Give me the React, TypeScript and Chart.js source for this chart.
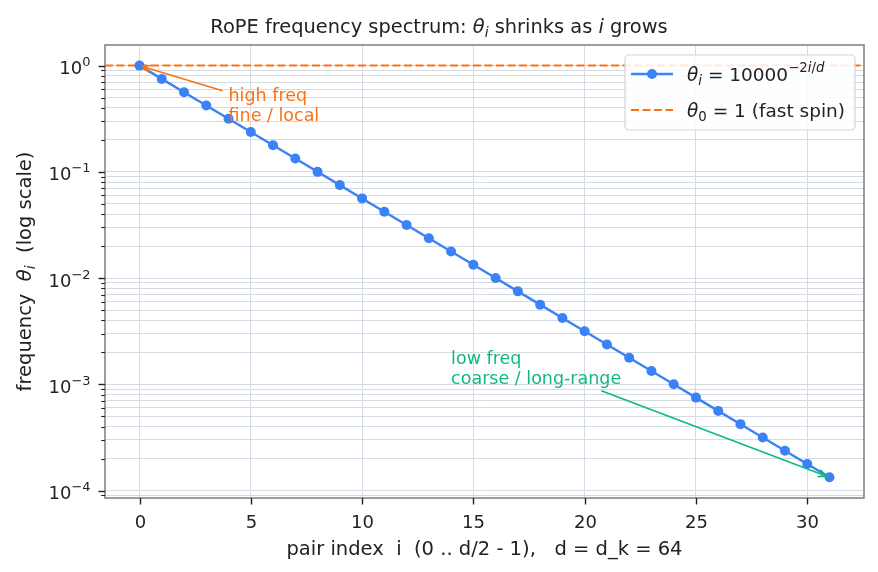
import { useEffect, useRef } from "react";
import { Chart, registerables } from "chart.js";

Chart.register(...registerables);

// RoPE rotation frequencies theta_i = 10000^(-2i/d) for d = 64, pair index 0..31
const PAIR_INDEX = [
  0, 1, 2, 3, 4, 5, 6, 7, 8, 9, 10, 11, 12, 13, 14, 15,
  16, 17, 18, 19, 20, 21, 22, 23, 24, 25, 26, 27, 28, 29, 30, 31,
];
const THETA = [
  1, 0.7499, 0.5623, 0.4217, 0.3162, 0.2371, 0.1778, 0.1334,
  0.1, 0.07499, 0.05623, 0.04217, 0.03162, 0.02371, 0.01778, 0.01334,
  0.01, 0.007499, 0.005623, 0.004217, 0.003162, 0.002371, 0.001778, 0.001334,
  0.001, 0.0007499, 0.0005623, 0.0004217, 0.0003162, 0.0002371, 0.0001778, 0.0001334,
];
const REF_LEVEL = 1;

const X_TICKS = [0, 5, 10, 15, 20, 25, 30];
const X_LIMITS = [-1.55, 32.55];
const Y_LIMITS = [8.51e-5, 1.563];
const Y_DECADES = [-5, -4, -3, -2, -1, 0];
const Y_MULTIPLIERS = [1, 2, 3, 4, 5, 6, 7, 8, 9];
const Y_LABELED_EXP = [-4, -3, -2, -1, 0];

const BLUE = "#3b82f6";
const ORANGE = "#f97316";
const GREEN = "#10b981";
const GRID = "#d5dbe2";
const FRAME = "#858585";
const INK = "#222222";
const FONT = '"DejaVu Sans"';

type Seg = { t: string; it?: boolean; s?: "sub" | "sup" };

const TITLE: Seg[] = [
  { t: "RoPE frequency spectrum: " },
  { t: "θ", it: true },
  { t: "i", it: true, s: "sub" },
  { t: " shrinks as " },
  { t: "i", it: true },
  { t: " grows" },
];
const X_LABEL: Seg[] = [{ t: "pair index  i  (0 .. d/2 - 1),   d = d_k = 64" }];
const Y_LABEL: Seg[] = [
  { t: "frequency  " },
  { t: "θ", it: true },
  { t: "i", it: true, s: "sub" },
  { t: "  (log scale)" },
];
const LEGEND_SERIES: Seg[] = [
  { t: "θ", it: true },
  { t: "i", it: true, s: "sub" },
  { t: " = 10000" },
  { t: "−2", s: "sup" },
  { t: "i", it: true, s: "sup" },
  { t: "/", s: "sup" },
  { t: "d", it: true, s: "sup" },
];
const LEGEND_REF: Seg[] = [
  { t: "θ", it: true },
  { t: "0", s: "sub" },
  { t: " = 1 (fast spin)" },
];

// annotation text anchor, arrow tail and arrow head, all in data units
const NOTE_LINES = [
  ["high freq", "fine / local"],
  ["low freq", "coarse / long-range"],
];
const NOTE_TEXT_AT = [
  [4, 0.3],
  [14, 0.001],
];
const NOTE_ARROW_FROM = [
  [3.73, 0.58],
  [20.75, 0.00087],
];
const NOTE_ARROW_TO = [
  [0, 1],
  [31, 0.0001334],
];
const NOTE_COLORS = [ORANGE, GREEN];

function segFont(size: number, seg: Seg) {
  const sz = seg.s ? size * 0.72 : size;
  return `${seg.it ? "italic " : ""}${sz}px ${FONT}`;
}

function richWidth(ctx: CanvasRenderingContext2D, segs: Seg[], size: number) {
  let w = 0;
  for (const seg of segs) {
    ctx.font = segFont(size, seg);
    w += ctx.measureText(seg.t).width;
  }
  return w;
}

function drawRich(
  ctx: CanvasRenderingContext2D,
  segs: Seg[],
  x: number,
  y: number,
  size: number,
  align: "left" | "center" | "right",
  color: string
) {
  const w = richWidth(ctx, segs, size);
  let cx = align === "center" ? x - w / 2 : align === "right" ? x - w : x;
  ctx.fillStyle = color;
  ctx.textAlign = "left";
  ctx.textBaseline = "alphabetic";
  for (const seg of segs) {
    ctx.font = segFont(size, seg);
    const dy = seg.s === "sub" ? size * 0.22 : seg.s === "sup" ? -size * 0.44 : 0;
    ctx.fillText(seg.t, cx, y + dy);
    cx += ctx.measureText(seg.t).width;
  }
}

function drawArrow(
  ctx: CanvasRenderingContext2D,
  x1: number,
  y1: number,
  x2: number,
  y2: number,
  color: string
) {
  const ang = Math.atan2(y2 - y1, x2 - x1);
  const shrink = 3;
  const ex = x2 - Math.cos(ang) * shrink;
  const ey = y2 - Math.sin(ang) * shrink;
  ctx.save();
  ctx.strokeStyle = color;
  ctx.lineWidth = 1.7;
  ctx.lineCap = "butt";
  ctx.beginPath();
  ctx.moveTo(x1, y1);
  ctx.lineTo(ex, ey);
  const head = 9;
  const spread = 0.4;
  ctx.moveTo(ex - Math.cos(ang - spread) * head, ey - Math.sin(ang - spread) * head);
  ctx.lineTo(ex, ey);
  ctx.lineTo(ex - Math.cos(ang + spread) * head, ey - Math.sin(ang + spread) * head);
  ctx.stroke();
  ctx.restore();
}

const decorations = {
  id: "decorations",
  afterDatasetsDraw(chart: Chart) {
    const ctx = chart.ctx;
    const ca = chart.chartArea;
    const xs = chart.scales.x;
    const ys = chart.scales.y;

    // annotations
    NOTE_LINES.forEach((lines, k) => {
      const color = NOTE_COLORS[k];
      const ax = xs.getPixelForValue(NOTE_ARROW_FROM[k][0]);
      const ay = ys.getPixelForValue(NOTE_ARROW_FROM[k][1]);
      const bx = xs.getPixelForValue(NOTE_ARROW_TO[k][0]);
      const by = ys.getPixelForValue(NOTE_ARROW_TO[k][1]);
      drawArrow(ctx, ax, ay, bx, by, color);
      const tx = xs.getPixelForValue(NOTE_TEXT_AT[k][0]);
      const ty = ys.getPixelForValue(NOTE_TEXT_AT[k][1]);
      const lh = 20.5;
      lines.forEach((line, j) => {
        drawRich(ctx, [{ t: line }], tx, ty - (lines.length - 1 - j) * lh, 17.5, "left", color);
      });
    });

    // axes frame
    ctx.save();
    ctx.strokeStyle = FRAME;
    ctx.lineWidth = 1.6;
    ctx.strokeRect(ca.left, ca.top, ca.right - ca.left, ca.bottom - ca.top);

    // tick marks
    ctx.strokeStyle = INK;
    for (const t of xs.ticks) {
      const px = Math.round(xs.getPixelForValue(t.value)) + 0.5;
      ctx.lineWidth = 1.4;
      ctx.beginPath();
      ctx.moveTo(px, ca.bottom);
      ctx.lineTo(px, ca.bottom + 6.5);
      ctx.stroke();
      drawRich(ctx, [{ t: String(t.value) }], px, ca.bottom + 29.5, 18, "center", INK);
    }
    for (const t of ys.ticks) {
      const py = Math.round(ys.getPixelForValue(t.value)) + 0.5;
      const major = !!t.major;
      ctx.lineWidth = major ? 1.4 : 1.1;
      ctx.beginPath();
      ctx.moveTo(ca.left, py);
      ctx.lineTo(ca.left - (major ? 6.5 : 3.8), py);
      ctx.stroke();
    }
    for (const e of Y_LABELED_EXP) {
      const py = ys.getPixelForValue(Math.pow(10, e));
      const expText = e < 0 ? "−" + Math.abs(e) : String(e);
      drawRich(ctx, [{ t: "10" }, { t: expText, s: "sup" }], ca.left - 14.5, py + 8.5, 18, "right", INK);
    }
    ctx.restore();

    // axis titles and chart title
    drawRich(ctx, X_LABEL, (ca.left + ca.right) / 2, ca.bottom + 56.5, 19.5, "center", INK);
    ctx.save();
    ctx.translate(30.5, (ca.top + ca.bottom) / 2);
    ctx.rotate(-Math.PI / 2);
    drawRich(ctx, Y_LABEL, 0, 0, 19.5, "center", INK);
    ctx.restore();
    drawRich(ctx, TITLE, chart.width / 2, 33, 19.4, "center", INK);

    // legend
    const fs = 18.5;
    const maxW = Math.max(richWidth(ctx, LEGEND_SERIES, fs), richWidth(ctx, LEGEND_REF, fs));
    const right = ca.right - 9;
    const left = right - (6 + 42 + 14 + maxW + 10);
    const top = ca.top + 10;
    const bottom = top + 75;
    ctx.save();
    ctx.fillStyle = "rgba(255,255,255,0.85)";
    ctx.strokeStyle = "#d4d4d4";
    ctx.lineWidth = 1.2;
    ctx.beginPath();
    ctx.roundRect(left, top, right - left, bottom - top, 4);
    ctx.fill();
    ctx.stroke();
    const hx0 = left + 6;
    const hx1 = hx0 + 42;
    const r1 = top + 19;
    const r2 = top + 55;
    ctx.strokeStyle = BLUE;
    ctx.lineWidth = 2.4;
    ctx.beginPath();
    ctx.moveTo(hx0, r1);
    ctx.lineTo(hx1, r1);
    ctx.stroke();
    ctx.fillStyle = BLUE;
    ctx.beginPath();
    ctx.arc((hx0 + hx1) / 2, r1, 5, 0, Math.PI * 2);
    ctx.fill();
    ctx.strokeStyle = ORANGE;
    ctx.lineWidth = 2;
    ctx.setLineDash([8, 3.5]);
    ctx.beginPath();
    ctx.moveTo(hx0, r2);
    ctx.lineTo(hx1, r2);
    ctx.stroke();
    ctx.setLineDash([]);
    ctx.restore();
    drawRich(ctx, LEGEND_SERIES, hx1 + 14, r1 + 6.5, fs, "left", INK);
    drawRich(ctx, LEGEND_REF, hx1 + 14, r2 + 6.5, fs, "left", INK);
  },
};

export default function App() {
  const canvasRef = useRef<HTMLCanvasElement | null>(null);

  useEffect(() => {
    const canvas = canvasRef.current;
    if (!canvas) return;
    const chart = new Chart(canvas, {
      type: "line",
      data: {
        datasets: [
          {
            label: "theta",
            data: PAIR_INDEX.map((i, k) => ({ x: i, y: THETA[k] })),
            borderColor: BLUE,
            backgroundColor: BLUE,
            borderWidth: 2.4,
            pointRadius: 5,
            pointBorderWidth: 0,
            pointBackgroundColor: BLUE,
            tension: 0,
          },
          {
            label: "ref",
            data: [
              { x: X_LIMITS[0], y: REF_LEVEL },
              { x: X_LIMITS[1], y: REF_LEVEL },
            ],
            borderColor: ORANGE,
            borderWidth: 2,
            borderDash: [8, 3.5],
            pointRadius: 0,
          },
        ],
      },
      options: {
        responsive: false,
        animation: false,
        events: [],
        layout: { padding: { left: 105, top: 45, right: 14, bottom: 74 } },
        plugins: { legend: { display: false }, title: { display: false }, tooltip: { enabled: false } },
        scales: {
          x: {
            type: "linear",
            min: X_LIMITS[0],
            max: X_LIMITS[1],
            afterBuildTicks: (s: any) => {
              s.ticks = X_TICKS.map((v) => ({ value: v, major: true }));
            },
            afterFit: (s: any) => {
              s.height = 0;
            },
            ticks: { display: false },
            grid: { color: GRID, lineWidth: 1, drawTicks: false },
            border: { display: false },
          },
          y: {
            type: "logarithmic",
            min: Y_LIMITS[0],
            max: Y_LIMITS[1],
            afterBuildTicks: (s: any) => {
              const list: { value: number; major: boolean }[] = [];
              for (const e of Y_DECADES) {
                for (const m of Y_MULTIPLIERS) {
                  const v = m * Math.pow(10, e);
                  if (v >= Y_LIMITS[0] && v <= Y_LIMITS[1]) list.push({ value: v, major: m === 1 });
                }
              }
              s.ticks = list;
            },
            afterFit: (s: any) => {
              s.width = 0;
            },
            ticks: { display: false },
            grid: { color: GRID, lineWidth: 1, drawTicks: false },
            border: { display: false },
          },
        },
      },
      plugins: [decorations],
    });
    return () => chart.destroy();
  }, []);

  return (
    <div style={{ position: "fixed", left: 0, top: 0, width: 878, height: 572, background: "#fff" }}>
      <canvas ref={canvasRef} width={878} height={572} style={{ display: "block" }} />
    </div>
  );
}
